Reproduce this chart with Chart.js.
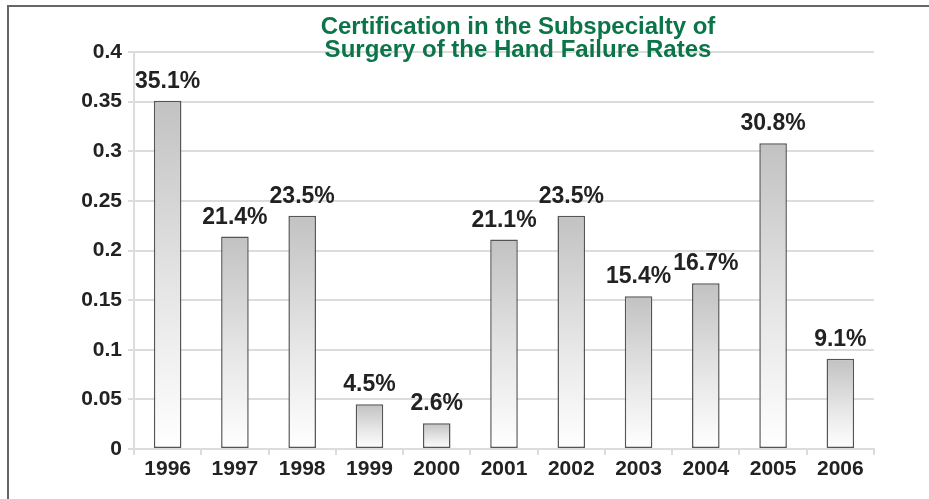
<!DOCTYPE html>
<html>
<head>
<meta charset="utf-8">
<script src="https://cdn.jsdelivr.net/npm/chart.js@4"></script>
<style>
  body { margin: 0; background: #fff; }
  .wrap { position: relative; width: 929px; height: 499px; }
  .frame { position: absolute; left: 7px; top: 5px; right: 0; bottom: 0;
           border-top: 2px solid #666; border-left: 2px solid #666; }
  canvas { position: absolute; left: 0; top: 0; }
</style>
</head>
<body>
<div class="wrap">
  <div class="frame"></div>
  <canvas id="myChart" width="929" height="499"></canvas>
</div>
<script>
const years = ["1996", "1997", "1998", "1999", "2000", "2001", "2002", "2003", "2004", "2005", "2006"];
const failureRates = [0.351, 0.214, 0.235, 0.045, 0.026, 0.211, 0.235, 0.154, 0.167, 0.308, 0.091];
const titleLines = ["Certification in the Subspecialty of", "Surgery of the Hand Failure Rates"];

const textColor = "#222";
const gridColor = "#dcdcdc";
const fontFamily = "'Liberation Sans', Arial, sans-serif";

// per-bar gradient: gray at the top fading to white at the base
const barGradient = (ctx) => {
  const chart = ctx.chart;
  const y = chart.scales.y;
  if (!y || ctx.raw === undefined) return "#ccc";
  const top = y.getPixelForValue(ctx.raw);
  const base = y.getPixelForValue(0);
  if (!isFinite(top) || !isFinite(base) || top === base) return "#ccc";
  const g = chart.ctx.createLinearGradient(0, top, 0, base);
  g.addColorStop(0, "#c2c2c2");
  g.addColorStop(0.55, "#e6e6e6");
  g.addColorStop(1, "#ffffff");
  return g;
};

const valueLabels = {
  id: "valueLabels",
  afterDatasetsDraw(chart) {
    const ctx = chart.ctx;
    const meta = chart.getDatasetMeta(0);
    ctx.save();
    ctx.font = "bold 23px " + fontFamily;
    ctx.fillStyle = textColor;
    ctx.textAlign = "center";
    ctx.textBaseline = "alphabetic";
    meta.data.forEach((bar, i) => {
      const text = (failureRates[i] * 100).toFixed(1) + "%";
      ctx.fillText(text, bar.x, bar.y - 13);
    });
    ctx.restore();
  }
};

const titleText = {
  id: "titleText",
  afterDraw(chart) {
    const ctx = chart.ctx;
    ctx.save();
    ctx.font = "bold 24px " + fontFamily;
    ctx.fillStyle = "#0b7448";
    ctx.textAlign = "center";
    ctx.textBaseline = "middle";
    titleLines.forEach((line, i) => {
      ctx.fillText(line, 518, 27 + i * 23);
    });
    ctx.restore();
  }
};

new Chart(document.getElementById("myChart"), {
  type: "bar",
  data: {
    labels: years,
    datasets: [{
      data: failureRates,
      backgroundColor: barGradient,
      borderColor: "#555",
      borderWidth: 1.5,
      borderSkipped: false,
      categoryPercentage: 1,
      barPercentage: 0.41
    }]
  },
  options: {
    responsive: false,
    animation: false,
    layout: { padding: { top: 52, right: 55, left: 0, bottom: 0 } },
    scales: {
      x: {
        afterFit: (scale) => { scale.height = 50; },
        grid: {
          offset: true,
          drawOnChartArea: false,
          drawTicks: true,
          tickLength: 6,
          color: gridColor,
          lineWidth: 2
        },
        border: { color: gridColor, width: 2 },
        ticks: {
          color: textColor,
          padding: 2,
          font: { family: fontFamily, size: 21, weight: "bold" }
        }
      },
      y: {
        min: 0,
        max: 0.4,
        afterFit: (scale) => { scale.width = 134; },
        grid: { color: gridColor, lineWidth: 2, tickLength: 6 },
        border: { color: gridColor, width: 2 },
        ticks: {
          stepSize: 0.05,
          color: textColor,
          padding: 6,
          font: { family: fontFamily, size: 21, weight: "bold" },
          callback: (value) => +value.toFixed(2)
        }
      }
    },
    plugins: {
      legend: { display: false },
      tooltip: { enabled: false }
    }
  },
  plugins: [valueLabels, titleText]
});
</script>
</body>
</html>
